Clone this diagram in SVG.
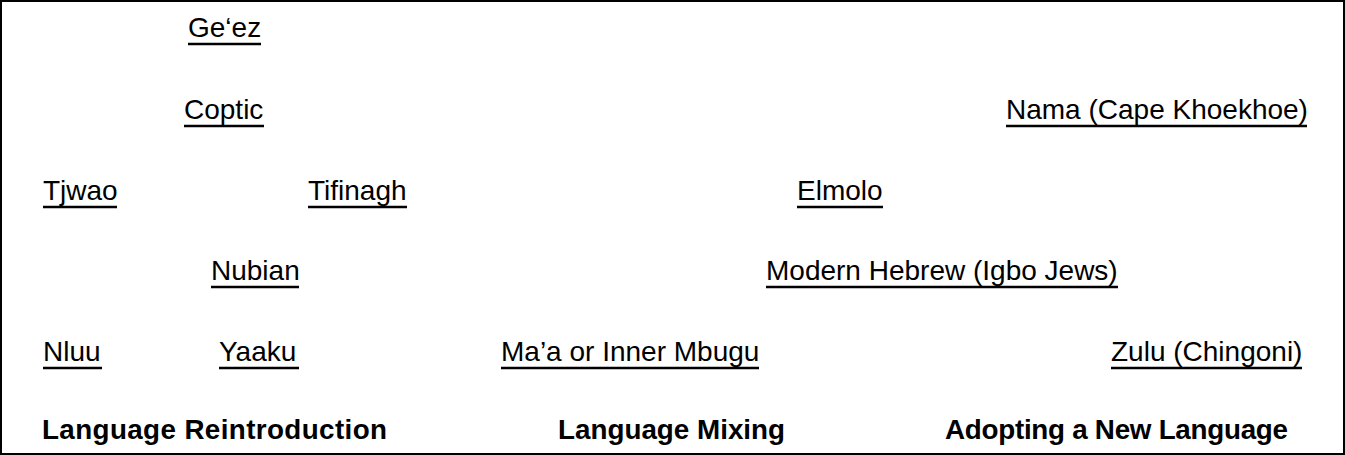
<svg xmlns="http://www.w3.org/2000/svg" width="1345" height="455" viewBox="0 0 1345 455">
  <style>
    .lbl { font-family: "Liberation Sans", Arial, sans-serif; font-size: 28px; fill: #000; }
    .head { font-family: "Liberation Sans", Arial, sans-serif; font-size: 27.8px; font-weight: bold; fill: #000; }
    .ul { stroke: #000; stroke-width: 2.4; }
  </style>
  <rect x="1" y="1" width="1343" height="453" fill="#fff" stroke="#000" stroke-width="2"/>

  <!-- language nodes: text plus underline -->
  <g id="geez"><text class="lbl" x="188" y="37">Ge‘ez</text><line class="ul" x1="188" y1="44" x2="261" y2="44"/></g>
  <g id="coptic"><text class="lbl" x="184" y="119">Coptic</text><line class="ul" x1="184" y1="126" x2="264" y2="126"/></g>
  <g id="nama"><text class="lbl" x="1006" y="119">Nama (Cape Khoekhoe)</text><line class="ul" x1="1006" y1="126" x2="1307" y2="126"/></g>
  <g id="tjwao"><text class="lbl" x="43" y="200">Tjwao</text><line class="ul" x1="43" y1="207" x2="117" y2="207"/></g>
  <g id="tifinagh"><text class="lbl" x="308" y="200">Tifinagh</text><line class="ul" x1="308" y1="207" x2="407" y2="207"/></g>
  <g id="elmolo"><text class="lbl" x="797" y="200">Elmolo</text><line class="ul" x1="797" y1="207" x2="883" y2="207"/></g>
  <g id="nubian"><text class="lbl" x="211" y="280">Nubian</text><line class="ul" x1="211" y1="287" x2="299" y2="287"/></g>
  <g id="modern-hebrew"><text class="lbl" x="766" y="280">Modern Hebrew (Igbo Jews)</text><line class="ul" x1="766" y1="287" x2="1118" y2="287"/></g>
  <g id="nluu"><text class="lbl" x="43" y="361">Nluu</text><line class="ul" x1="43" y1="368" x2="102" y2="368"/></g>
  <g id="yaaku"><text class="lbl" x="219" y="361">Yaaku</text><line class="ul" x1="219" y1="368" x2="299" y2="368"/></g>
  <g id="maa"><text class="lbl" x="501" y="361">Ma’a or Inner Mbugu</text><line class="ul" x1="501" y1="368" x2="759" y2="368"/></g>
  <g id="zulu"><text class="lbl" x="1111" y="361">Zulu (Chingoni)</text><line class="ul" x1="1111" y1="368" x2="1302" y2="368"/></g>

  <!-- column headings -->
  <g id="heading-reintroduction"><text class="head" x="42" y="439" textLength="345" lengthAdjust="spacing">Language Reintroduction</text></g>
  <g id="heading-mixing"><text class="head" x="558" y="439">Language Mixing</text></g>
  <g id="heading-adopting"><text class="head" x="945" y="439" textLength="343" lengthAdjust="spacing">Adopting a New Language</text></g>

  <g id="connectors"/>
</svg>
